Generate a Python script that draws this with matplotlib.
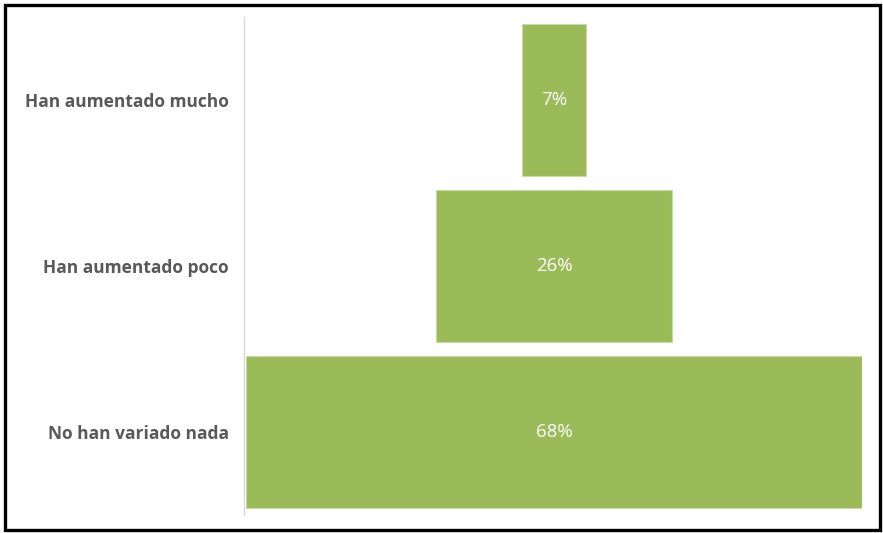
import matplotlib
matplotlib.use("Agg")
import matplotlib.pyplot as plt
from matplotlib.patches import Rectangle
from matplotlib.font_manager import FontProperties

categories = ["Han aumentado mucho", "Han aumentado poco", "No han variado nada"]
values = [7, 26, 68]
value_labels = ["7%", "26%", "68%"]

green = "#9BBB59"
label_grey = "#595959"

fig = plt.figure(figsize=(8.83, 5.33), dpi=100)
ax = fig.add_axes([246 / 883, 1 - 515 / 533, (862 - 246) / 883, (515 - 17) / 533])

half = max(values) / 2
for side in ["top", "right", "bottom"]:
    ax.spines[side].set_visible(False)
ax.spines["left"].set_position(("data", -half - 0.2))
ax.spines["left"].set_color("#D9D9D9")
ax.spines["left"].set_linewidth(1)

ypos = list(range(len(categories)))
lefts = [-v / 2 for v in values]
ax.barh(ypos, values, left=lefts, height=0.92, color=green,
        edgecolor="#C9DBA4", linewidth=0.8)

for y, v, lab in zip(ypos, values, value_labels):
    ax.text(0, y, lab, ha="center", va="center", color="white",
            fontsize=13.5, family="Open Sans")

ax.set_xlim(-half, half)
ax.set_ylim(len(categories) - 0.5, -0.5)
ax.set_xticks([])
ax.set_yticks(ypos)
label_font = FontProperties(family="Open Sans", weight="bold", size=12.5)
ax.set_yticklabels(categories, fontproperties=label_font, color=label_grey)
ax.tick_params(axis="y", length=0, pad=11)

# outer frame around the whole figure
fig.patches.append(Rectangle((4.5 / 883, 3.5 / 533), 1 - 8 / 883, 1 - 8 / 533,
                             transform=fig.transFigure, fill=False,
                             edgecolor="black", linewidth=2.4))

fig.savefig("out.png", dpi=100)
